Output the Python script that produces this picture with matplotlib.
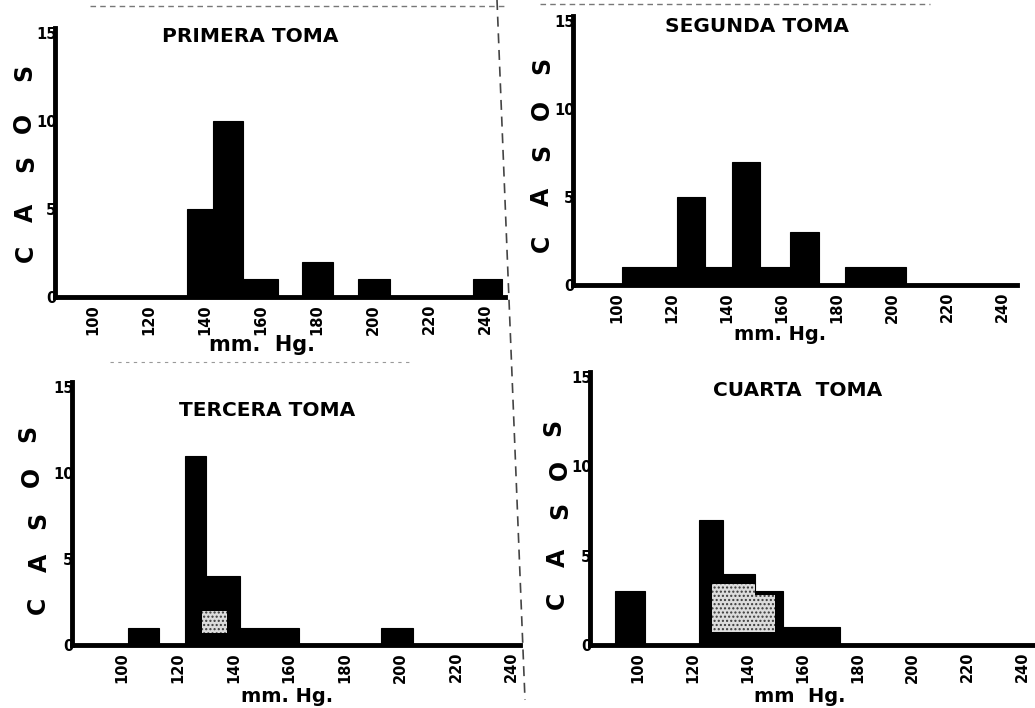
import matplotlib
matplotlib.use("Agg")
import matplotlib.pyplot as plt
from matplotlib.patches import Rectangle
from matplotlib.lines import Line2D

W, H = 1035, 708

# bars: left edge, right edge (mm Hg), number of cases
p1_lo = [133.6, 142.9, 153.6, 174.6, 194.6, 235.7]
p1_hi = [142.9, 153.6, 166.0, 185.7, 206.0, 246.0]
p1_n = [5, 10, 1, 2, 1, 1]

p2_lo = [102, 122, 132, 142, 152, 163, 183]
p2_hi = [122, 132, 142, 152, 163, 173.5, 205]
p2_n = [1, 5, 1, 7, 1, 3, 1]

p3_lo = [102, 122.7, 130, 142.5, 193]
p3_hi = [113.3, 130, 142.5, 163.4, 204.4]
p3_n = [1, 11, 4, 1, 1]

p4_lo = [91.6, 122.2, 131, 142.6, 152.8]
p4_hi = [102.5, 131, 142.6, 152.8, 173.5]
p4_n = [3, 7, 4, 3, 1]

# stippled (light) areas inside the bars: x0, x1, y0, y1
p3_dots = [(128.8, 137.8, 0.7, 2.0)]
p4_dots = [(127, 142.6, 0.7, 3.4), (142.6, 150, 0.7, 2.8)]

x_ticks = [100, 120, 140, 160, 180, 200, 220, 240]
y_ticks = [0, 5, 10, 15]
titles = ["PRIMERA TOMA", "SEGUNDA TOMA", "TERCERA TOMA", "CUARTA  TOMA"]
xlabels = ["mm.  Hg.", "mm. Hg.", "mm. Hg.", "mm  Hg."]

fig = plt.figure(figsize=(W / 100, H / 100), dpi=100)
fig.patch.set_facecolor("white")


def fx(x):
    return x / W


def fy(y):
    return 1 - y / H


def make_panel(left, right, y15, y0, xlim, lo, hi, n, dots, title, tpos, xlab, xlpos, xlsize, letters):
    ytop = 15.3
    top = y0 - (y0 - y15) * ytop / 15
    ax = fig.add_axes([fx(left), fy(y0), (right - left) / W, (y0 - top) / H])
    ax.bar(lo, n, width=[h - l for l, h in zip(lo, hi)], align="edge",
           color="black", edgecolor="black", linewidth=0.8)
    for (a, b, c, d) in dots:
        ax.add_patch(Rectangle((a, c), b - a, d - c, facecolor="#dcdcdc",
                               edgecolor="#3a3a3a", hatch="....", linewidth=0))
    ax.set_xlim(*xlim)
    ax.set_ylim(0, ytop)
    for s in ["top", "right"]:
        ax.spines[s].set_visible(False)
    for s in ["left", "bottom"]:
        ax.spines[s].set_linewidth(3.5)
    ax.set_xticks(x_ticks)
    ax.set_xticklabels([str(t) for t in x_ticks], rotation=90,
                       fontsize=10.5, fontweight="bold")
    ax.set_yticks(y_ticks)
    ax.set_yticklabels([str(t) for t in y_ticks], fontsize=10.5, fontweight="bold")
    ax.tick_params(axis="x", length=0, pad=5)
    ax.tick_params(axis="y", length=0, pad=-1)
    ax.patch.set_alpha(0)
    fig.text(fx(tpos[0]), fy(tpos[1]), title, ha="center", va="center",
             fontsize=14.5, fontweight="bold")
    fig.text(fx(xlpos[0]), fy(xlpos[1]), xlab, ha="center", va="center",
             fontsize=xlsize, fontweight="bold")
    for ch, (lx, ly) in zip("CASOS", letters):
        fig.text(fx(lx), fy(ly), ch, ha="center", va="center", rotation=90,
                 fontsize=17, fontweight="bold")
    return ax


make_panel(55, 505, 33, 297, (86.4, 247), p1_lo, p1_hi, p1_n, [],
           titles[0], (250, 37), xlabels[0], (262, 345), 15,
           [(26, 253), (26, 213), (26, 163), (24, 123), (24, 72)])
make_panel(573, 1017, 21, 285, (84, 245.5), p2_lo, p2_hi, p2_n, [],
           titles[1], (757, 27), xlabels[1], (780, 335), 14,
           [(542, 243), (542, 197), (542, 152), (542, 110), (542, 65)])
make_panel(72, 520, 387, 645, (82, 243), p3_lo, p3_hi, p3_n, p3_dots,
           titles[2], (267, 410), xlabels[2], (287, 696), 14,
           [(38, 605), (40, 563), (38, 520), (32, 477), (28, 433)])
make_panel(590, 1035, 377, 645, (82.5, 244.5), p4_lo, p4_hi, p4_n, p4_dots,
           titles[3], (798, 390), xlabels[3], (800, 696), 14,
           [(557, 600), (558, 558), (560, 510), (560, 470), (553, 427)])

# scan artefacts: dashed cut lines between the panels
fig.add_artist(Line2D([fx(497), fx(525)], [fy(0), fy(700)], color="#444444",
                      linewidth=1.2, linestyle=(0, (6, 4))))
fig.add_artist(Line2D([fx(90), fx(505)], [fy(6), fy(6)], color="#777777",
                      linewidth=1, linestyle=(0, (4, 3))))
fig.add_artist(Line2D([fx(540), fx(930)], [fy(4), fy(4)], color="#777777",
                      linewidth=1, linestyle=(0, (4, 3))))
fig.add_artist(Line2D([fx(110), fx(410)], [fy(362), fy(362)], color="#999999",
                      linewidth=0.8, linestyle=(0, (3, 4))))

fig.savefig("out.png", dpi=100, facecolor="white")
